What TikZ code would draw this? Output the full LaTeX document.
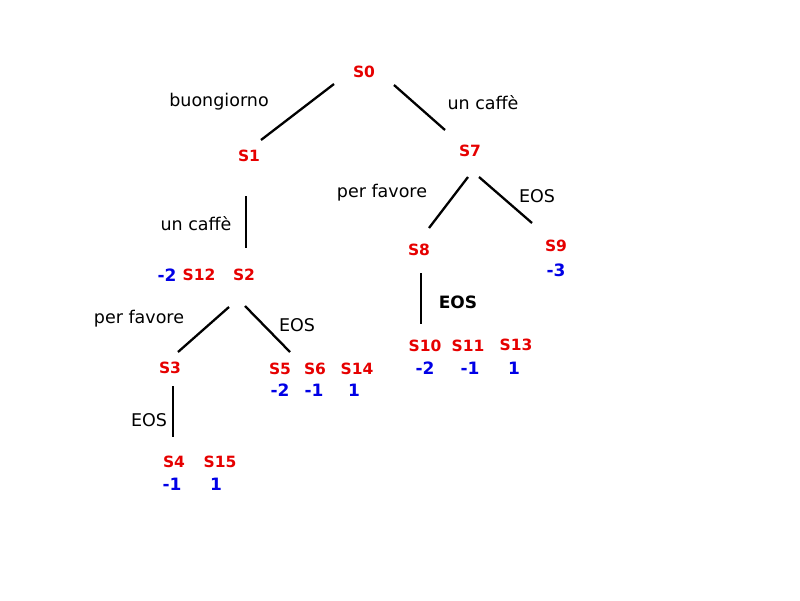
\documentclass[tikz,border=0pt]{standalone}
\usepackage{fontspec}
\setmainfont{DejaVu Sans}
\definecolor{sred}{RGB}{230,0,0}
\definecolor{nblue}{RGB}{0,0,230}
\tikzset{
  st/.style={text=sred,font=\fontsize{15.5}{18}\selectfont\bfseries,inner sep=0pt},
  val/.style={text=nblue,font=\fontsize{17}{20}\selectfont\bfseries,inner sep=0pt},
  lab/.style={text=black,font=\fontsize{17.5}{20}\selectfont,inner sep=0pt},
  blab/.style={text=black,font=\fontsize{17}{20}\selectfont\bfseries,inner sep=0pt},
  edge/.style={line width=2.3pt,black}
}
\begin{document}
\begin{tikzpicture}[x=1pt,y=-1pt]
\useasboundingbox (0,0) rectangle (800,600);
% states
\node[st] (s0) at (364,72) {S0};
\node[st] (s1) at (249,156) {S1};
\node[st] (s7) at (470,151) {S7};
\node[st] (s12) at (199,275) {S12};
\node[st] (s2) at (244,275) {S2};
\node[val] (v12) at (167,275) {-2};
\node[st] (s8) at (419,250) {S8};
\node[st] (s9) at (556,246) {S9};
\node[val] (v9) at (556,270) {-3};
\node[st] (s10) at (425,346) {S10};
\node[st] (s11) at (468,346) {S11};
\node[st] (s13) at (516,345) {S13};
\node[val] (v10) at (425,368) {-2};
\node[val] (v11) at (470,368) {-1};
\node[val] (v13) at (514,368) {1};
\node[st] (s3) at (170,368) {S3};
\node[st] (s5) at (280,369) {S5};
\node[st] (s6) at (315,369) {S6};
\node[st] (s14) at (357,369) {S14};
\node[val] (v5) at (280,390) {-2};
\node[val] (v6) at (314,390) {-1};
\node[val] (v14) at (354,390) {1};
\node[st] (s4) at (174,462) {S4};
\node[st] (s15) at (220,462) {S15};
\node[val] (v4) at (172,484) {-1};
\node[val] (v15) at (216,484) {1};
% edge labels
\node[lab] (l01) at (219,102) {buongiorno};
\node[lab] (l07) at (483,103) {un caffè};
\node[lab] (l12) at (196,224) {un caffè};
\node[lab] (l78) at (382,193) {per favore};
\node[lab] (l79) at (537,196) {EOS};
\node[blab] (l810) at (458,302) {EOS};
\node[lab] (l23) at (139,319) {per favore};
\node[lab] (l25) at (297,325) {EOS};
\node[lab] (l34) at (149,420) {EOS};
% edge end points
\coordinate (a01) at (334,84);  \coordinate (b01) at (261,140);
\coordinate (a07) at (394,85);  \coordinate (b07) at (445,130);
\coordinate (a12) at (246,196); \coordinate (b12) at (246,248);
\coordinate (a78) at (468,177); \coordinate (b78) at (429,228);
\coordinate (a79) at (479,177); \coordinate (b79) at (532,223);
\coordinate (a810) at (421,273); \coordinate (b810) at (421,324);
\coordinate (a23) at (229,307); \coordinate (b23) at (178,352);
\coordinate (a25) at (245,306); \coordinate (b25) at (290,352);
\coordinate (a34) at (173,386); \coordinate (b34) at (173,437);
\draw[edge] (a01) -- (b01);
\draw[edge] (a07) -- (b07);
\draw[edge] (a12) -- (b12);
\draw[edge] (a78) -- (b78);
\draw[edge] (a79) -- (b79);
\draw[edge] (a810) -- (b810);
\draw[edge] (a23) -- (b23);
\draw[edge] (a25) -- (b25);
\draw[edge] (a34) -- (b34);
\end{tikzpicture}
\end{document}
